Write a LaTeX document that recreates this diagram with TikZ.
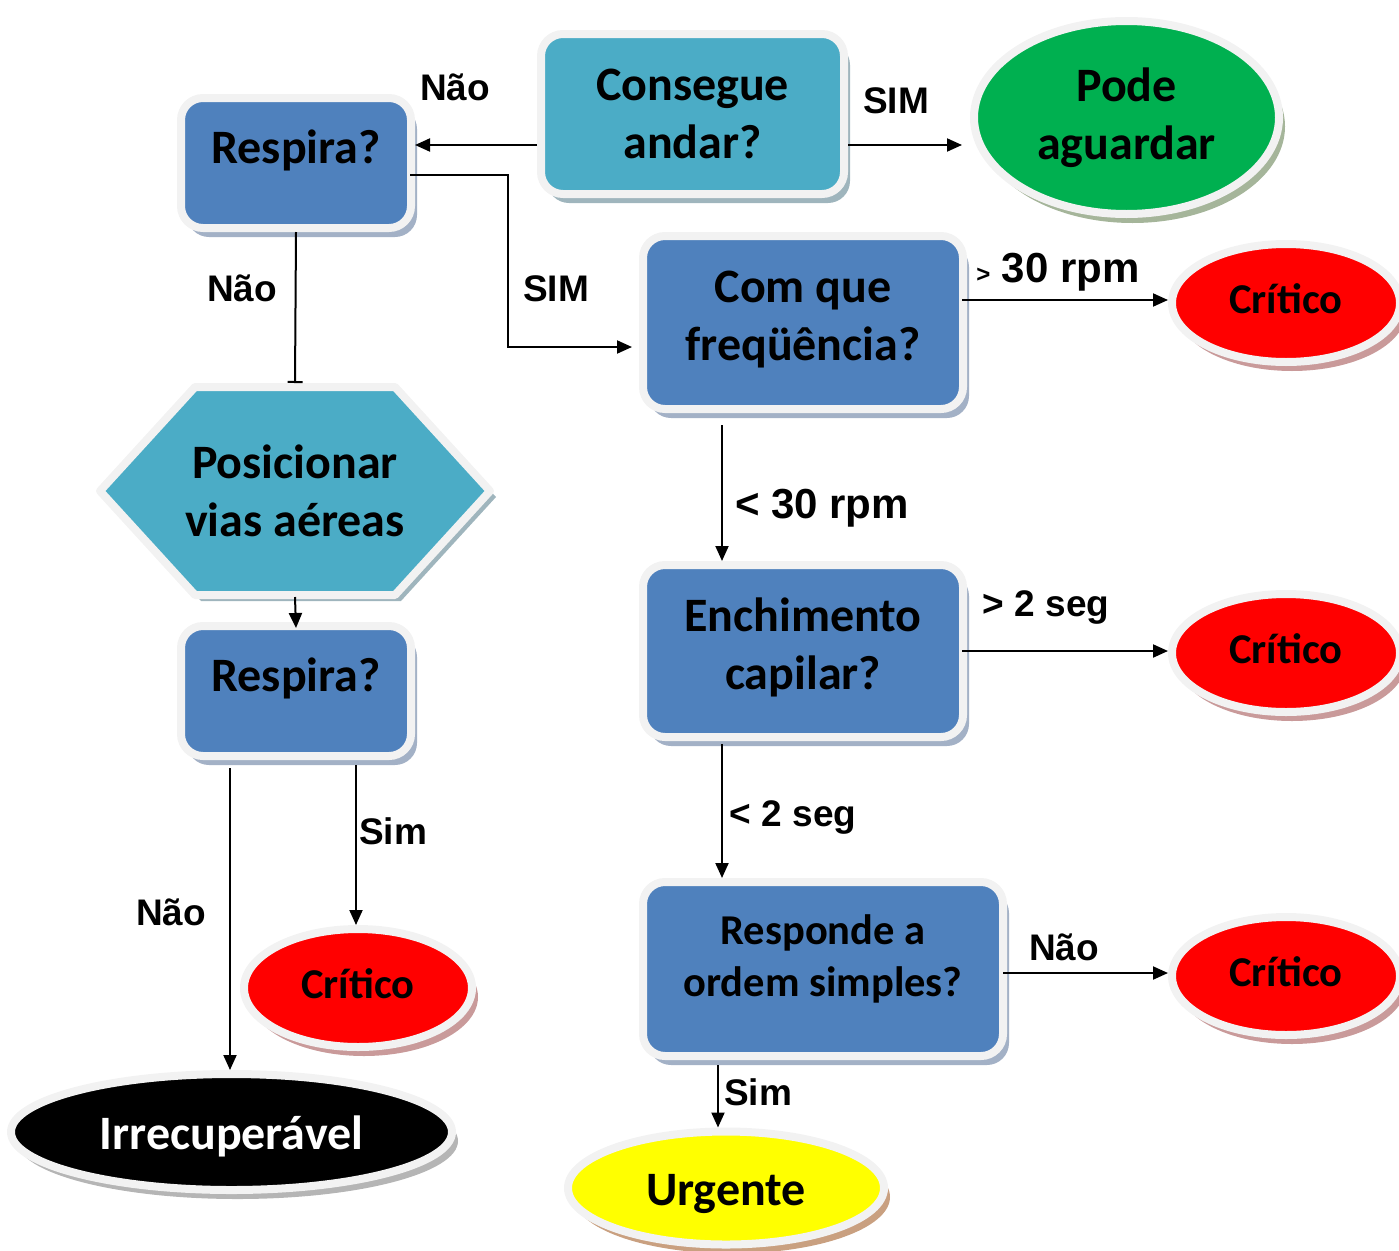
\documentclass[tikz,border=0pt]{standalone}
\usepackage{fontspec}
\setmainfont{Carlito}
\newfontfamily\labfont{Liberation Sans}
\usetikzlibrary{arrows.meta,shadows,shapes.geometric}
\definecolor{bluebox}{HTML}{4F81BD}
\definecolor{tealbox}{HTML}{4BACC6}
\definecolor{greenbox}{HTML}{00B050}
\definecolor{redbox}{HTML}{FF0000}
\definecolor{yellowbox}{HTML}{FFFF00}
\definecolor{rim}{HTML}{F2F2F2}
\definecolor{shblue}{HTML}{A3B1C6}
\definecolor{shteal}{HTML}{9FB5BD}
\definecolor{shgreen}{HTML}{A5B59A}
\definecolor{shred}{HTML}{C99A9A}
\definecolor{shyellow}{HTML}{C9A080}
\definecolor{shblack}{HTML}{B5B5B5}
\tikzset{
  bigfont/.style={font=\bfseries\fontsize{48}{58}\selectfont},
  critfont/.style={font=\bfseries\fontsize{42.5}{48}\selectfont, text height=24pt, text depth=3pt},
  box/.style 2 args={rectangle, rounded corners=22pt, draw=rim, line width=8pt,
    fill=#1, align=center, bigfont,
    general shadow={shadow xshift=6pt, shadow yshift=-9pt, fill=#2}},
  ell/.style 2 args={ellipse, draw=rim, line width=8pt, fill=#1, inner sep=0pt,
    align=center, bigfont,
    general shadow={shadow xshift=6pt, shadow yshift=-9pt, fill=#2}},
  boxtext/.style={bigfont, align=center},
  lab/.style={font=\labfont\bfseries\fontsize{37}{40}\selectfont, inner sep=0pt, anchor=base},
  labbig/.style={font=\labfont\bfseries\fontsize{42}{46}\selectfont, inner sep=0pt, anchor=base},
  arr/.style={line width=2pt, -{Triangle[length=15pt,width=13pt]}},
  barline/.style={line width=2pt, -{Bar[width=15pt]}},
}
\begin{document}
\begin{tikzpicture}[x=1pt,y=-1pt]
\useasboundingbox (0,0) rectangle (1399,1250);

% top row
\node[box={tealbox}{shteal}, minimum width=303pt, minimum height=160pt] (cons) at (692.5,114) {Consegue\\andar?};
\node[ell={greenbox}{shgreen}, minimum width=305pt, minimum height=193pt] (pode) at (1126.5,117.5) {Pode\\aguardar};

\node[box={bluebox}{shblue}, minimum width=230pt, minimum height=130pt,
  label={[boxtext, yshift=13pt]center:Respira?}] (resp1) at (296,163) {};

\node[box={bluebox}{shblue}, minimum width=320pt, minimum height=173pt,
  label={[boxtext, yshift=3pt]center:Com que\\freqüência?}] (freq) at (803,322.5) {};

\node[ell={redbox}{shred}, minimum width=228pt, minimum height=118pt, critfont] (crit1) at (1286,303) {Crítico};

% hexagon
\fill[shteal] (106,497) -- (201,393) -- (401,393) -- (496,497) -- (401,601) -- (201,601) -- cycle;
\filldraw[fill=tealbox, draw=rim, line width=8pt, line join=round] (100,491) -- (195,387) -- (395,387) -- (490,491) -- (395,595) -- (195,595) -- cycle;
\node[boxtext, minimum width=390pt, minimum height=208pt, outer sep=4pt] (pos) at (295,491) {Posicionar\\vias aéreas};

\node[box={bluebox}{shblue}, minimum width=230pt, minimum height=130pt,
  label={[boxtext, yshift=13pt]center:Respira?}] (resp2) at (296,691) {};

\node[box={bluebox}{shblue}, minimum width=320pt, minimum height=172pt,
  label={[boxtext, yshift=4pt]center:Enchimento\\capilar?}] (ench) at (803,651) {};

\node[ell={redbox}{shred}, minimum width=228pt, minimum height=118pt, critfont] (crit2) at (1286,653) {Crítico};

\node[box={bluebox}{shblue}, minimum width=360pt, minimum height=174pt,
  label={[font=\bfseries\fontsize{42.5}{52}\selectfont, align=center, yshift=10pt]center:Responde a\\ordem simples?}] (respo) at (823,969) {};

\node[ell={redbox}{shred}, minimum width=228pt, minimum height=118pt, critfont] (crit3) at (1286,976) {Crítico};

\node[ell={redbox}{shred}, minimum width=228pt, minimum height=118pt, critfont] (critL) at (358,988) {Crítico};

\node[ell={black}{shblack}, minimum width=441pt, minimum height=116pt, text=white, text height=34pt, text depth=0pt] (irrec) at (231.5,1132) {Irrecuperável};

\node[ell={yellowbox}{shyellow}, minimum width=316pt, minimum height=113pt, text height=34pt, text depth=0pt] (urg) at (726,1188) {Urgente};

% connectors
\draw[arr] ([yshift=-31pt]cons.west) -- ([yshift=18pt]resp1.east);
\draw[arr] ([yshift=-31pt]cons.east) -- ([xshift=-8pt,yshift=-27.5pt]pode.west);
\draw[arr] ([xshift=-5pt,yshift=-12pt]resp1.east) -- ++(98,0) |- ([xshift=-7pt,yshift=-24.5pt]freq.west);
\draw[barline] (resp1.south) -- (pos.north);
\draw[arr] ([yshift=2pt]pos.south) -- ([yshift=-6pt]resp2.north);
\draw[arr] ([xshift=-66pt,yshift=-8pt]resp2.south) -- ([xshift=-1.5pt]irrec.north);
\draw[arr] ([xshift=60pt,yshift=-5pt]resp2.south) -- ([xshift=-2pt]critL.north);
\draw[arr] ([xshift=-5pt,yshift=22.5pt]freq.east) -- ([yshift=3pt]crit1.west);
\draw[arr] ([xshift=-81pt,yshift=-12pt]freq.south) -- ([xshift=-81pt]ench.north);
\draw[arr] ([xshift=-5pt]ench.east) -- ([yshift=2pt]crit2.west);
\draw[arr] ([xshift=-81pt,yshift=-3pt]ench.south) -- ([xshift=-101pt]respo.north);
\draw[arr] ([xshift=-4pt,yshift=-4pt]respo.east) -- ([yshift=3pt]crit3.west);
\draw[arr] ([xshift=-105pt,yshift=-5pt]respo.south) -- ([xshift=-8pt]urg.north);

% labels
\node[lab] (l1) at (455,100) {Não};
\node[lab] (l2) at (896,113) {SIM};
\node[lab] (l3) at (242,301) {Não};
\node[lab] (l4) at (556,301) {SIM};
\node[labbig] (l5) at (1058,282) {{\fontsize{24}{24}\selectfont >} 30 rpm};
\node[labbig] (l6) at (822,518) {< 30 rpm};
\node[lab] (l7) at (1046,616) {> 2 seg};
\node[lab] (l8) at (793,826) {< 2 seg};
\node[lab] (l9) at (1064,960) {Não};
\node[lab] (l10) at (393,844) {Sim};
\node[lab] (l11) at (171,925) {Não};
\node[lab] (l12) at (758,1105) {Sim};
\end{tikzpicture}
\end{document}
